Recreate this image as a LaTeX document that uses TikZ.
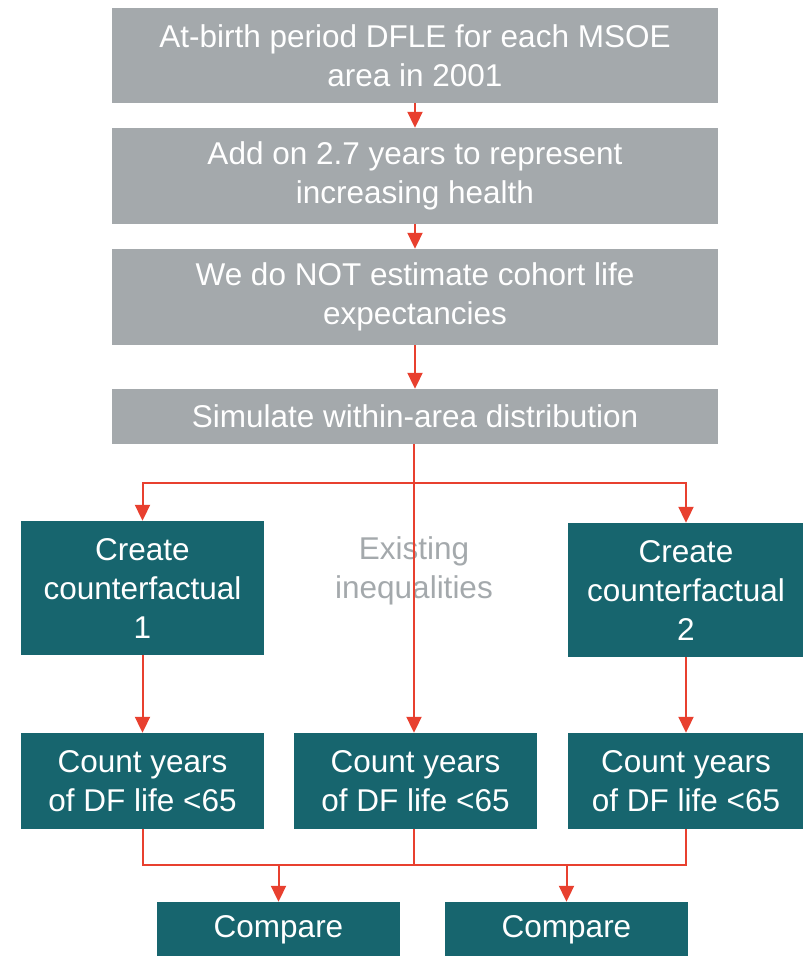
\documentclass[tikz,border=0pt]{standalone}
\usepackage{fontspec}
\setmainfont{Liberation Sans}
\usetikzlibrary{arrows.meta}
\definecolor{boxgrey}{HTML}{A4A9AC}
\definecolor{boxteal}{HTML}{17656E}
\definecolor{linered}{HTML}{E8402F}
\begin{document}
\begin{tikzpicture}[x=1pt,y=-1pt,
  txt/.style={font=\fontsize{31.5}{39}\selectfont, align=center, inner sep=0pt},
  gbox/.style={txt, fill=boxgrey, text=white, minimum width=606pt},
  tbox/.style={txt, fill=boxteal, text=white},
  conn/.style={draw=linered, line width=2pt},
  arr/.style={conn, -{Triangle[width=15pt,length=16pt]}}]
\useasboundingbox (0,0) rectangle (803,956);
\node[gbox, minimum height=95pt] (b1) at (415,55.5) {At-birth period DFLE for each MSOE\\area in 2001};
\node[gbox, minimum height=96pt] (b2) at (415,176) {Add on 2.7 years to represent\\increasing health};
\node[gbox, minimum height=96pt] (b3) at (415,297) {We do NOT estimate cohort life\\expectancies};
\node[gbox, minimum height=55pt] (b4) at (415,416.5) {Simulate within-area distribution};
\node[txt, text=boxgrey] (ex) at (414,571) {Existing\\inequalities};
\node[tbox, minimum width=243pt, minimum height=134pt] (cf1) at (142.5,588) {Create\\counterfactual\\1};
\node[tbox, minimum width=236pt, minimum height=134pt] (cf2) at (686,590) {Create\\counterfactual\\2};
\node[tbox, minimum width=243pt, minimum height=96pt] (c1) at (142.5,781) {Count years\\of DF life <65};
\node[tbox, minimum width=243pt, minimum height=96pt] (c2) at (415.5,781) {Count years\\of DF life <65};
\node[tbox, minimum width=236pt, minimum height=96pt] (c3) at (686,781) {Count years\\of DF life <65};
\node[tbox, minimum width=243pt, minimum height=56pt] (m1) at (278.5,930) {Compare};
\node[tbox, minimum width=243pt, minimum height=56pt] (m2) at (566.5,930) {Compare};
\coordinate (j1) at (414,483);
\coordinate (j2) at (414,865);
\draw[arr] (b1) -- (b2);
\draw[arr] (b2) -- (b3);
\draw[arr] (b3) -- (b4);
\draw[arr] (b4.south -| j1) -- (c2.north -| j1);
\draw[arr] (j1) -| (cf1.north);
\draw[arr] (j1) -| (cf2.north);
\draw[arr] (cf1) -- (c1);
\draw[arr] (cf2) -- (c3);
\draw[conn] (c1.south) |- (j2) -| (c3.south);
\draw[conn] (c2.south -| j2) -- (j2);
\draw[arr] (m1.north |- j2) -- (m1.north);
\draw[arr] (m2.north |- j2) -- (m2.north);
\end{tikzpicture}
\end{document}
